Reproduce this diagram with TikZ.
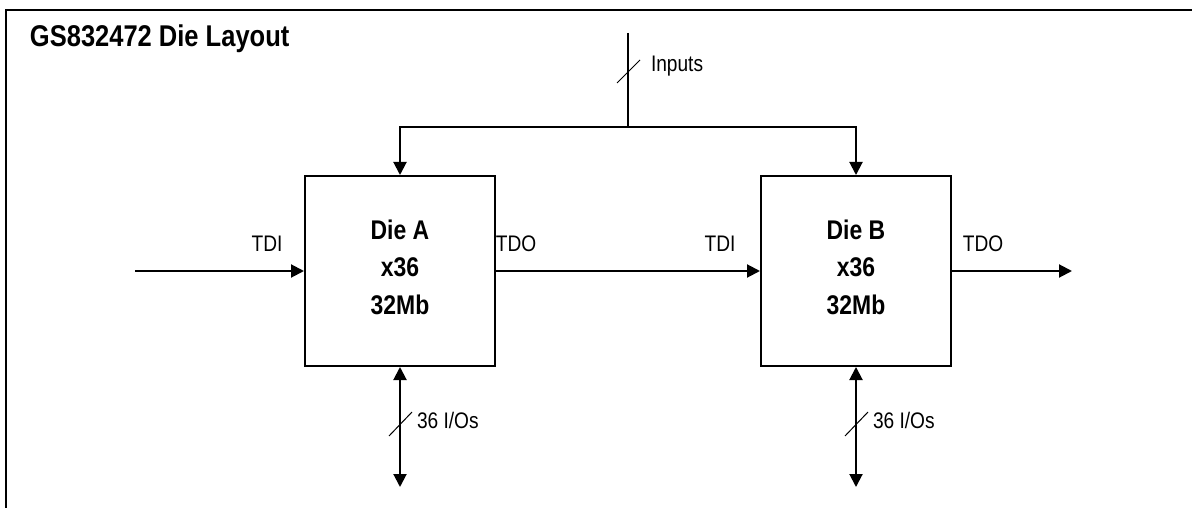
\documentclass[tikz,border=0pt]{standalone}
\usepackage{fontspec}
\setmainfont{Liberation Sans}[FakeStretch=0.85]
\usetikzlibrary{arrows.meta}
\begin{document}
\begin{tikzpicture}[x=1pt,y=-1pt,line width=2pt,
  arr/.style={-{Triangle[length=13pt,width=13pt]}},
  arrboth/.style={{Triangle[length=13pt,width=13pt]}-{Triangle[length=13pt,width=13pt]}},
  die/.style={draw,minimum width=190pt,minimum height=190pt,inner sep=0pt},
  dietext/.style={inner sep=0pt,align=center,font=\bfseries\fontsize{27}{35}\selectfont},
  lbl/.style={inner sep=0pt,font=\fontsize{22.5}{26}\selectfont},
  busmark/.style={line width=1pt}]
\useasboundingbox (0,0) rectangle (1192,508);
\draw (6,509) -- (6,10) -- (1193,10);
\node[anchor=base west,inner sep=0pt,font=\bfseries\fontsize{30}{36}\selectfont] (title) at (29,47) {GS832472 Die Layout};
\node[die] (A) at (400,271) {};
\node[die] (B) at (856,271) {};
\node[dietext] (At) at (400,267) {Die A\\[2.5pt]x36\\[2.5pt]32Mb};
\node[dietext] (Bt) at (856,267) {Die B\\[2.5pt]x36\\[2.5pt]32Mb};
\coordinate (tdiIn) at (135,271);
\coordinate (tdoOut) at (1072,271);
\coordinate (inTop) at (628,33);
\coordinate (j) at (628,127);
\coordinate (ioA) at (400,487);
\coordinate (ioB) at (856,487);
\draw[arr] (tdiIn) -- (A.west);
\draw[arr] (A.east) -- (B.west);
\draw[arr] (B.east) -- (tdoOut);
\draw (inTop) -- (j);
\draw[arr] (j) -| (A.north);
\draw[arr] (j) -| (B.north);
\draw[arrboth] (A.south) -- (ioA);
\draw[arrboth] (B.south) -- (ioB);
\draw[busmark] (617,83) -- (640,60);
\draw[busmark] (389,436) -- (412,412);
\draw[busmark] (845,436) -- (868,412);
\node[lbl,anchor=base] (tdiAl) at (267,251) {TDI};
\node[lbl,anchor=base] (tdoAl) at (516,251) {TDO};
\node[lbl,anchor=base] (tdiBl) at (720,251) {TDI};
\node[lbl,anchor=base] (tdoBl) at (983,251) {TDO};
\node[lbl,anchor=base west] (inl) at (650,72) {Inputs};
\node[lbl,anchor=base west] (ioAl) at (416,428) {36 I/Os};
\node[lbl,anchor=base west] (ioBl) at (872,428) {36 I/Os};
\end{tikzpicture}
\end{document}
